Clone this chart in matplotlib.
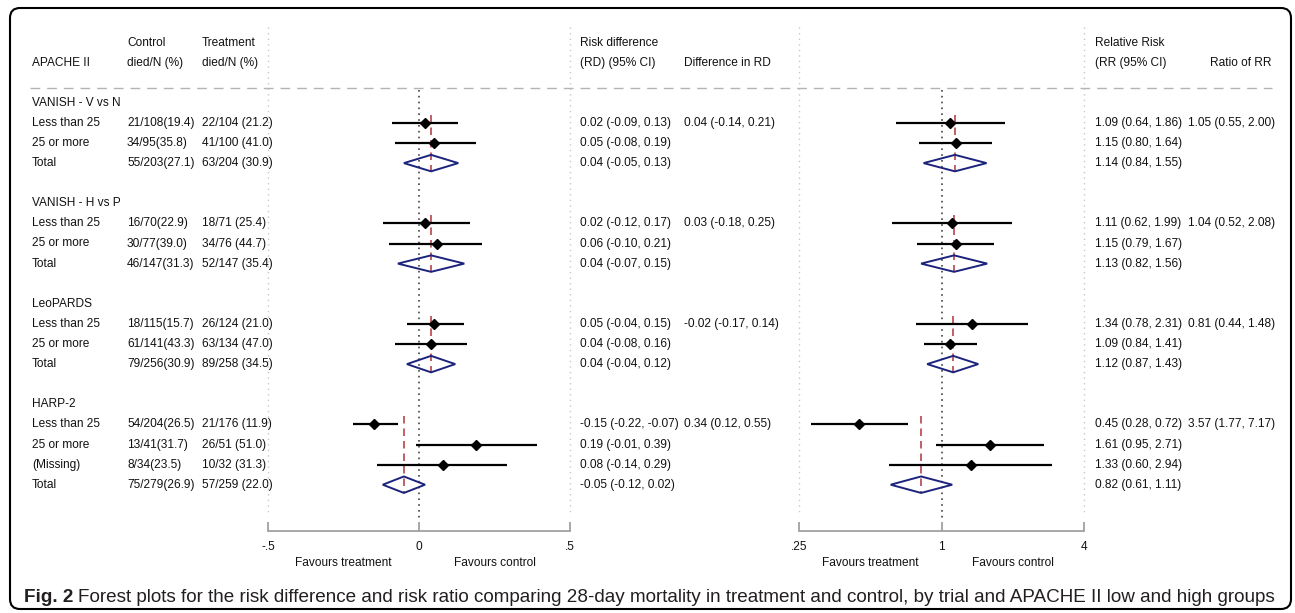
import matplotlib
matplotlib.use('Agg')
import matplotlib.pyplot as plt
import matplotlib.transforms as mtransforms
from matplotlib import font_manager
from matplotlib.patches import Polygon, FancyBboxPatch

plt.rcParams['font.family'] = ['Liberation Sans', 'DejaVu Sans']

# ---- data ----
trials = ['VANISH - V vs N', 'VANISH - H vs P', 'LeoPARDS', 'HARP-2']
row_trial = [0, 0, 0, 1, 1, 1, 2, 2, 2, 3, 3, 3, 3]
row_labels = ['Less than 25', '25 or more', 'Total',
              'Less than 25', '25 or more', 'Total',
              'Less than 25', '25 or more', 'Total',
              'Less than 25', '25 or more', '(Missing)', 'Total']
control = ['21/108(19.4)', '34/95(35.8)', '55/203(27.1)',
           '16/70(22.9)', '30/77(39.0)', '46/147(31.3)',
           '18/115(15.7)', '61/141(43.3)', '79/256(30.9)',
           '54/204(26.5)', '13/41(31.7)', '8/34(23.5)', '75/279(26.9)']
treatment = ['22/104 (21.2)', '41/100 (41.0)', '63/204 (30.9)',
             '18/71 (25.4)', '34/76 (44.7)', '52/147 (35.4)',
             '26/124 (21.0)', '63/134 (47.0)', '89/258 (34.5)',
             '21/176 (11.9)', '26/51 (51.0)', '10/32 (31.3)', '57/259 (22.0)']
rd_est = [0.02, 0.05, 0.04, 0.02, 0.06, 0.04, 0.05, 0.04, 0.04, -0.15, 0.19, 0.08, -0.05]
rd_lo = [-0.09, -0.08, -0.05, -0.12, -0.10, -0.07, -0.04, -0.08, -0.04, -0.22, -0.01, -0.14, -0.12]
rd_hi = [0.13, 0.19, 0.13, 0.17, 0.21, 0.15, 0.15, 0.16, 0.12, -0.07, 0.39, 0.29, 0.02]
rr_est = [1.09, 1.15, 1.14, 1.11, 1.15, 1.13, 1.34, 1.09, 1.12, 0.45, 1.61, 1.33, 0.82]
rr_lo = [0.64, 0.80, 0.84, 0.62, 0.79, 0.82, 0.78, 0.84, 0.87, 0.28, 0.95, 0.60, 0.61]
rr_hi = [1.86, 1.64, 1.55, 1.99, 1.67, 1.56, 2.31, 1.41, 1.43, 0.72, 2.71, 2.94, 1.11]
diff_rd = ['0.04 (-0.14, 0.21)', '0.03 (-0.18, 0.25)', '-0.02 (-0.17, 0.14)', '0.34 (0.12, 0.55)']
ratio_rr = ['1.05 (0.55, 2.00)', '1.04 (0.52, 2.08)', '0.81 (0.44, 1.48)', '3.57 (1.77, 7.17)']
rd_ticks = [-0.5, 0, 0.5]
rd_ticklabels = ['-.5', '0', '.5']
rr_ticks = [0.25, 1, 4]
rr_ticklabels = ['.25', '1', '4']
caption_bold = 'Fig. 2'
caption_rest = ('Forest plots for the risk difference and risk ratio comparing 28-day mortality '
                'in treatment and control, by trial and APACHE II low and high groups')

# ---- layout ----
W, H = 1295, 613
FS = 8.6
fig = plt.figure(figsize=(W / 100, H / 100), dpi=100)

# row positions: header row, subgroup rows, blank row
head_pos, ypos = [], []
k = 0
for t in range(len(trials)):
    head_pos.append(k)
    n = row_trial.count(t)
    ypos += [k + 1 + j for j in range(n)]
    k += n + 2
is_total = [lab == 'Total' for lab in row_labels]

row0_px, row_px = 102.8, 20.1
top_px, bot_px = 27, 531
def px2row(p):
    return (p - row0_px) / row_px
ylim = (px2row(bot_px), px2row(top_px))
ab, ah = (H - bot_px) / H, (bot_px - top_px) / H

ax_t = fig.add_axes([0, ab, 1, ah])
ax_t.set_xlim(0, W)
ax_t.set_ylim(*ylim)
ax_t.axis('off')

ax_rd = fig.add_axes([268 / W, ab, (570 - 268) / W, ah])
ax_rr = fig.add_axes([799 / W, ab, (1084 - 799) / W, ah])
ax_rr.set_xscale('log', base=2)

# header
hdr1, hdr2 = px2row(42.7), px2row(63.3)
def txt(x, y, s, **kw):
    ax_t.text(x, y, s, fontsize=FS, va='center', ha=kw.pop('ha', 'left'), color='#111111', **kw)
txt(32, hdr2, 'APACHE II')
txt(127, hdr1, 'Control'); txt(127, hdr2, 'died/N (%)')
txt(202, hdr1, 'Treatment'); txt(202, hdr2, 'died/N (%)')
txt(580, hdr1, 'Risk difference'); txt(580, hdr2, '(RD) (95% CI)')
txt(684, hdr2, 'Difference in RD')
txt(1095, hdr1, 'Relative Risk'); txt(1095, hdr2, '(RR (95% CI)')
txt(1272, hdr2, 'Ratio of RR', ha='right')
ax_t.hlines(px2row(88.3), 30, 1272, color='#b4b4b4', lw=1, linestyles=(0, (7, 5)))

# body text
for t, name in enumerate(trials):
    txt(32, head_pos[t], name)
for i, y in enumerate(ypos):
    txt(32, y, row_labels[i])
    txt(127, y, control[i])
    txt(202, y, treatment[i])
    txt(580, y, f'{rd_est[i]:.2f} ({rd_lo[i]:.2f}, {rd_hi[i]:.2f})')
    txt(1095, y, f'{rr_est[i]:.2f} ({rr_lo[i]:.2f}, {rr_hi[i]:.2f})')
for t in range(len(trials)):
    first = ypos[row_trial.index(t)]
    txt(684, first, diff_rd[t])
    txt(1188, first, ratio_rr[t])

# forest panels
def forest(ax, est, lo, hi, null, lims, ticks, ticklabels, fav):
    ax.set_xlim(*lims)
    ax.set_ylim(*ylim)
    ax.patch.set_alpha(0)
    for s in ('left', 'right', 'top'):
        ax.spines[s].set_visible(False)
    ax.spines['bottom'].set_color('#a0a0a0')
    ax.spines['bottom'].set_linewidth(1.3)
    ax.set_yticks([])
    ax.set_xticks(ticks)
    ax.set_xticklabels(ticklabels)
    ax.minorticks_off()
    ax.tick_params(axis='x', direction='in', length=6.5, width=1.3, color='#a0a0a0',
                   labelsize=FS, pad=7, labelcolor='#111111')
    ax.vlines(lims, ylim[1], px2row(516), color='#c8c8c8', lw=1,
              linestyles=(0, (1, 3)), clip_on=False)
    ax.vlines(null, px2row(90), px2row(521), color='#444444', lw=1.2,
              linestyles=(0, (1, 2.5)))
    for i, y in enumerate(ypos):
        if is_total[i]:
            ax.add_patch(Polygon([(lo[i], y), (est[i], y - 0.41), (hi[i], y), (est[i], y + 0.41)],
                                 closed=True, fill=False, edgecolor='#1c237c', lw=1.4, zorder=3))
        else:
            ax.hlines(y, lo[i], hi[i], color='black', lw=1.6, zorder=3)
            ax.plot(est[i], y, 'D', color='black', ms=5, zorder=4)
    for t in range(len(trials)):
        idx = [i for i in range(len(ypos)) if row_trial[i] == t]
        tot = idx[-1]
        ax.vlines(est[tot], ypos[idx[0]] - 0.41, ypos[tot] + 0.41, color='#b5444a', lw=1.2,
                  linestyles=(0, (4.5, 3)), zorder=2)
    tr = mtransforms.blended_transform_factory(ax.transData, fig.transFigure)
    ax.text(fav[0], 1 - 563 / H, 'Favours treatment', transform=tr, ha='center',
            va='center', fontsize=FS, color='#111111')
    ax.text(fav[1], 1 - 563 / H, 'Favours control', transform=tr, ha='center',
            va='center', fontsize=FS, color='#111111')

forest(ax_rd, rd_est, rd_lo, rd_hi, 0, (-0.5, 0.5), rd_ticks, rd_ticklabels, (-0.25, 0.25))
forest(ax_rr, rr_est, rr_lo, rr_hi, 1, (0.25, 4), rr_ticks, rr_ticklabels, (0.5, 2))

# frame
frame = FancyBboxPatch((10 / 100, (H - 609) / 100), (1291 - 10) / 100, (609 - 8) / 100,
                       boxstyle='round,pad=0,rounding_size=0.1', transform=fig.dpi_scale_trans,
                       fill=False, edgecolor='black', lw=1.5)
fig.add_artist(frame)

# caption, sized to span the same width as the original
names = {f.name for f in font_manager.fontManager.ttflist}
cap_font = 'Liberation Sans Narrow' if 'Liberation Sans Narrow' in names else 'Liberation Sans'
renderer = fig.canvas.get_renderer()
cs = 12.0
cy = 1 - 597 / H
t1 = fig.text(24 / W, cy, caption_bold, fontsize=cs, weight='bold', family=cap_font,
              va='center', color='#231f20')
t2 = fig.text(0, cy, caption_rest, fontsize=cs, family=cap_font, va='center', color='#231f20')
for _ in range(3):
    b1 = t1.get_window_extent(renderer)
    t2.set_x((b1.x1 + cs * 0.35) / W)
    b2 = t2.get_window_extent(renderer)
    cs *= (1275 - 24) / (b2.x1 - b1.x0)
    t1.set_fontsize(cs)
    t2.set_fontsize(cs)
b1 = t1.get_window_extent(renderer)
t2.set_x((b1.x1 + cs * 0.35) / W)

fig.savefig('out.png', dpi=100)
